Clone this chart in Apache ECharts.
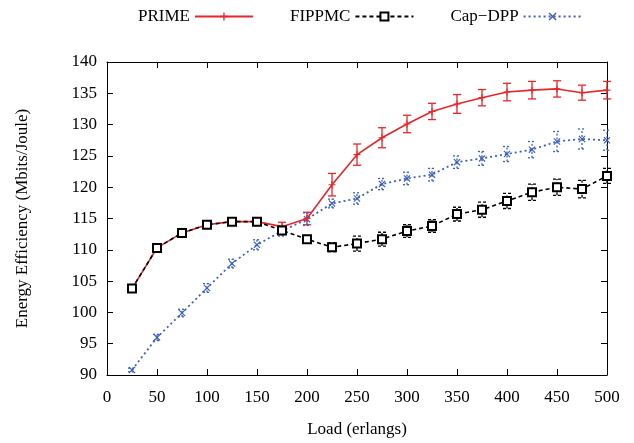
<!DOCTYPE html>
<html><head><meta charset="utf-8">
<script src="https://cdn.jsdelivr.net/npm/echarts@6/dist/echarts.min.js"></script>
<style>html,body{margin:0;padding:0;background:#fff}#c{width:634px;height:443px}</style>
</head><body><div id="c"></div>
<script>
const loads = [25,50,75,100,125,150,175,200,225,250,275,300,325,350,375,400,425,450,475,500];
const prime = [103.8,110.3,112.7,114.0,114.5,114.5,113.7,115.0,120.4,125.2,127.9,130.1,132.1,133.3,134.3,135.2,135.5,135.7,135.1,135.5];
const primeErr = [0.4,0.4,0.4,0.4,0.4,0.4,0.7,1.0,1.8,1.7,1.6,1.4,1.3,1.5,1.3,1.4,1.4,1.3,1.2,1.4];
const fippmc = [103.8,110.3,112.7,114.0,114.5,114.5,113.1,111.7,110.4,111.0,111.7,113.0,113.8,115.7,116.4,117.8,119.2,120.0,119.7,121.8];
const fippmcErr = [0.4,0.4,0.4,0.4,0.4,0.4,0.5,0.5,0.7,1.2,1.1,1.0,1.0,1.1,1.2,1.2,1.3,1.3,1.4,1.2];
const capdpp = [90.8,96.0,99.9,103.9,107.8,110.8,113.0,114.9,117.4,118.2,120.5,121.4,122.0,124.0,124.6,125.3,126.0,127.3,127.7,127.5];
const capdppErr = [0.3,0.5,0.6,0.7,0.7,0.8,0.8,1.0,0.7,0.9,0.9,1.0,1.0,1.0,1.1,1.2,1.3,1.6,1.6,1.6];
const xTicks = {min:0, max:500, interval:50};
const yTicks = {min:90, max:140, interval:5};

const RED = '#e8262a', BLACK = '#000000', BLUE = '#3d5fbf';
const FONT = 'Liberation Serif';
const plusPath = 'path://M4.2,0H5.8V10H4.2ZM0,4.2H10V5.8H0Z';
const crossPath = 'path://M0,1.2L1.2,0L5,3.8L8.8,0L10,1.2L6.2,5L10,8.8L8.8,10L5,6.2L1.2,10L0,8.8L3.8,5Z';

function errData(v, e){ return loads.map((x,i)=>[x, v[i]-e[i], v[i]+e[i]]); }
function errSeries(v, e, color, dash){
  return {
    type:'custom', silent:true, z:1,
    data: errData(v,e),
    renderItem: function(params, api){
      const x = api.value(0);
      const lo = api.coord([x, api.value(1)]);
      const hi = api.coord([x, api.value(2)]);
      const w = 4;
      const st = {stroke:color, lineWidth:1.3, lineDash:dash};
      return {type:'group', children:[
        {type:'line', shape:{x1:lo[0],y1:lo[1],x2:hi[0],y2:hi[1]}, style:st},
        {type:'line', shape:{x1:lo[0]-w,y1:lo[1],x2:lo[0]+w,y2:lo[1]}, style:st},
        {type:'line', shape:{x1:hi[0]-w,y1:hi[1],x2:hi[0]+w,y2:hi[1]}, style:st}
      ]};
    }
  };
}
function pairs(v){ return loads.map((x,i)=>[x, v[i]]); }

const axisCommon = {
  axisLine:{show:true, onZero:false, lineStyle:{color:'#000', width:1}},
  axisTick:{show:true, inside:true, length:6, lineStyle:{color:'#000'}},
  splitLine:{show:false}
};

const chart = echarts.init(document.getElementById('c'), null, {renderer:'canvas'});
chart.setOption({
  animation:false,
  textStyle:{fontFamily:FONT},
  grid:{left:107, right:27, top:62, bottom:66},
  legend:{
    top:3, left:133, align:'right', itemWidth:58, itemHeight:10, itemGap:36,
    textStyle:{fontFamily:FONT, fontSize:17, color:'#000'},
    data:['PRIME','FIPPMC','Cap\u2212DPP']
  },
  xAxis:[
    Object.assign({type:'value', position:'bottom', min:xTicks.min, max:xTicks.max, interval:xTicks.interval,
      name:'Load (erlangs)', nameLocation:'middle', nameGap:46,
      nameTextStyle:{fontFamily:FONT, fontSize:17, color:'#000'},
      axisLabel:{fontFamily:FONT, fontSize:17, color:'#000', margin:14}}, axisCommon),
    Object.assign({type:'value', position:'top', min:xTicks.min, max:xTicks.max, interval:xTicks.interval,
      axisLabel:{show:false}}, axisCommon)
  ],
  yAxis:[
    Object.assign({type:'value', position:'left', min:yTicks.min, max:yTicks.max, interval:yTicks.interval,
      name:'Energy Efficiency (Mbits/Joule)', nameLocation:'middle', nameGap:76,
      nameTextStyle:{fontFamily:FONT, fontSize:17, color:'#000'},
      axisLabel:{fontFamily:FONT, fontSize:17, color:'#000', margin:10}}, axisCommon),
    Object.assign({type:'value', position:'right', min:yTicks.min, max:yTicks.max, interval:yTicks.interval,
      axisLabel:{show:false}}, axisCommon)
  ],
  series:[
    errSeries(prime, primeErr, RED, null),
    errSeries(fippmc, fippmcErr, BLACK, [3,2]),
    errSeries(capdpp, capdppErr, BLUE, [2,2]),
    {name:'PRIME', type:'line', data:pairs(prime), z:3,
      symbol:plusPath, symbolSize:7, showAllSymbol:true,
      lineStyle:{color:RED, width:1.6}, itemStyle:{color:RED}},
    {name:'FIPPMC', type:'line', data:pairs(fippmc), z:4,
      symbol:'emptyRect', symbolSize:8, showAllSymbol:true,
      lineStyle:{color:BLACK, width:1.6, type:[4,3]}, itemStyle:{color:BLACK, borderColor:BLACK, borderWidth:1.4}},
    {name:'Cap\u2212DPP', type:'line', data:pairs(capdpp), z:2,
      symbol:crossPath, symbolSize:7, showAllSymbol:true,
      lineStyle:{color:BLUE, width:1.8, type:[2,3]}, itemStyle:{color:BLUE}}
  ]
});
</script></body></html>
